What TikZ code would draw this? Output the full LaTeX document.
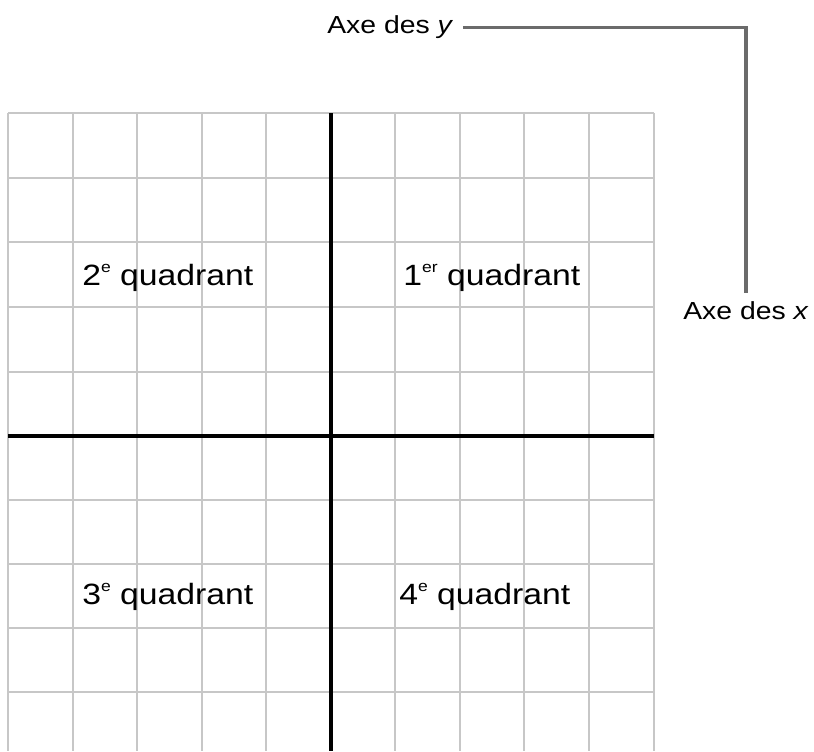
\documentclass[tikz,border=0pt]{standalone}
\usepackage{fontspec}
\setmainfont[FakeStretch=1.15]{Liberation Sans}
\newcommand\supsc[1]{\raisebox{0.44em}{\scalebox{0.52}{#1}}}
\tikzset{
  gridline/.style={draw=black!22, line width=1.5pt},
  axisline/.style={draw=black, line width=3pt},
  leader/.style={draw=black!58, line width=2.3pt},
  axlabel/.style={inner sep=0pt, font=\fontsize{18.5}{22}\selectfont},
  qlabel/.style={inner sep=0pt, font=\fontsize{22}{25}\selectfont},
}
\begin{document}
\begin{tikzpicture}[x=0.75pt,y=-0.75pt]
\useasboundingbox (0,0) rectangle (814,751);
% grid
\foreach \i in {0,...,10} {
  \draw[gridline] ({8+64.55*\i},113) -- ({8+64.55*\i},751);
}
\foreach \j in {113,178,242,307,372,500,564,628,692} {
  \draw[gridline] (8,\j) -- (653.5,\j);
}
% axes
\draw[axisline] (330.5,113) -- (330.5,751);
\draw[axisline] (8,436) -- (653.5,436);
% quadrant labels
\node[qlabel, anchor=base west] (q2) at (82,285) {2\supsc{e} quadrant};
\node[qlabel, anchor=base west] (q1) at (403,285) {1\supsc{er} quadrant};
\node[qlabel, anchor=base west] (q3) at (82,604) {3\supsc{e} quadrant};
\node[qlabel, anchor=base west] (q4) at (399,604) {4\supsc{e} quadrant};
% axis labels
\node[axlabel, anchor=base west] (ylab) at (327,33) {Axe des \textit{y}};
\node[axlabel, anchor=base] (xlab) at (746,319) {Axe des \textit{x}};
\draw[leader] ([xshift=7pt,yshift=-1pt]ylab.east) -| ([yshift=6pt]xlab.north);
\end{tikzpicture}
\end{document}
